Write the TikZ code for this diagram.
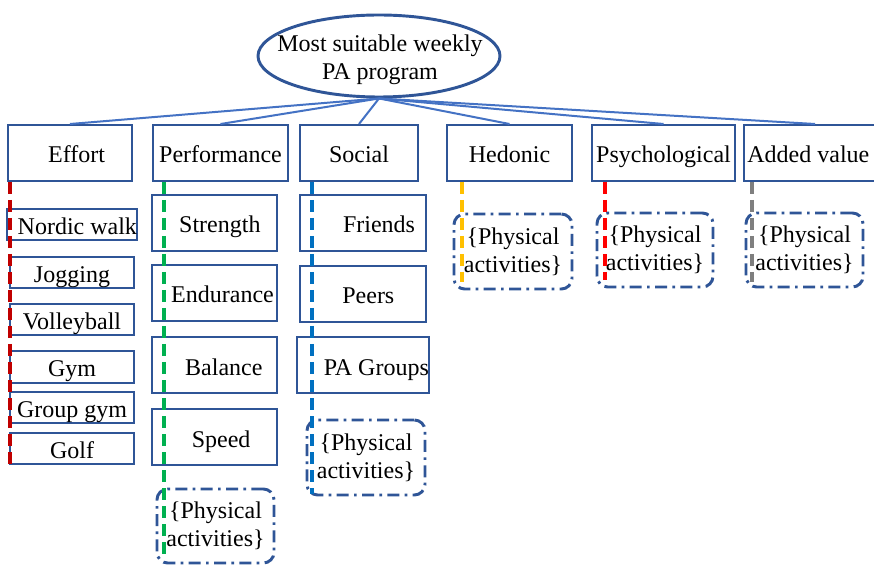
\documentclass[tikz,border=0pt]{standalone}
\usepackage{fontspec}
\setmainfont{Liberation Serif}
\usetikzlibrary{shapes.geometric}
\definecolor{boxblue}{HTML}{2F5597}
\definecolor{linkblue}{HTML}{4472C4}
\definecolor{dred}{HTML}{C00000}
\definecolor{bred}{HTML}{FF0000}
\definecolor{dgreen}{HTML}{00B050}
\definecolor{dblue}{HTML}{0070C0}
\definecolor{dyellow}{HTML}{FFC000}
\definecolor{dgray}{HTML}{7F7F7F}
\tikzset{
  sz/.style 2 args={minimum width=#1*0.75pt, minimum height=#2*0.75pt},
  box/.style={draw=boxblue, line width=1.5pt, rectangle, inner sep=0pt, fill=white,
     text height=15pt, text depth=0pt},
  pabox/.style={draw=boxblue, line width=2.2pt, rounded corners=8pt, inner sep=0pt,
     align=center, dash pattern=on 9pt off 4pt on 2pt off 4pt, fill=white},
  link/.style={draw=linkblue, line width=1.5pt},
  vdash/.style={line width=2.4pt, dash pattern=on 9pt off 4.5pt},
}
\begin{document}
\begin{tikzpicture}[x=0.75pt,y=-0.75pt,font=\fontsize{18}{21}\selectfont]
\fill[white] (0,0) rectangle (874,566);
\clip (0,0) rectangle (874,566);
% root
\node[ellipse, draw=boxblue, line width=2.2pt, sz={242}{82}, inner sep=0pt] (top) at (379,56) {};
\node[align=center, inner sep=0pt] (toptext) at (380,60) {Most suitable weekly\\PA program};
% categories
\node[box, sz={124}{56}] (effort) at (70,153) {\hspace*{10pt}Effort};
\node[box, sz={135}{56}] (perf) at (220.5,153) {Performance};
\node[box, sz={118}{56}] (social) at (359,153) {Social};
\node[box, sz={125}{56}] (hedonic) at (509.5,153) {Hedonic};
\node[box, sz={143}{56}] (psych) at (663.5,153) {Psychological};
\node[box, sz={142}{56}] (added) at (815,153) {\hspace*{-10pt}Added value};
\foreach \n in {effort,perf,social,hedonic,psych,added}
  \draw[link] (top.south) -- (\n.north);
% effort children
\node[box, sz={124}{31}] (nordic) at (72,224.5) {\hspace*{8pt}Nordic walk};
\node[box, sz={124}{31}] (jog) at (72,272.5) {Jogging};
\node[box, sz={124}{31}] (volley) at (72,319.5) {Volleyball};
\node[box, sz={124}{31}] (gym) at (72,367) {Gym};
\node[box, sz={124}{31}] (ggym) at (72,407.5) {Group gym};
\node[box, sz={124}{31}] (golf) at (72,448) {Golf};
% performance children
\node[box, sz={125}{56}] (strength) at (214.5,223) {\hspace*{8pt}Strength};
\node[box, sz={125}{56}] (endur) at (214.5,293) {\hspace*{12pt}Endurance};
\node[box, sz={125}{56}] (balance) at (214.5,365) {\hspace*{14pt}Balance};
\node[box, sz={125}{56}] (speed) at (214.5,437) {\hspace*{10pt}Speed};
\node[pabox, sz={117}{74}] (pa1) at (215.5,526) {\{Physical\\activities\}};
% social children
\node[box, sz={126}{56}] (friends) at (363,223) {\hspace*{24pt}Friends};
\node[box, sz={126}{56}] (peers) at (363,294) {\hspace*{8pt}Peers};
\node[box, sz={126}{56}] (pagroups) at (363,365) {\hspace*{20pt}PA Groups};
\node[pabox, sz={118}{75}] (pa2) at (366,457.5) {\{Physical\\activities\}};
% other PA boxes
\node[pabox, sz={118}{75}] (pa3) at (513,251.5) {\{Physical\\activities\}};
\node[pabox, sz={116}{74}] (pa4) at (655,250) {\{Physical\\activities\}};
\node[pabox, sz={117}{74}] (pa5) at (804.5,250) {\{Physical\\activities\}};
% dashed verticals
\draw[vdash, dred] ([xshift=3*0.75pt]effort.south west) -- ([xshift=3*0.75pt]effort.south west |- golf.south);
\draw[vdash, dgreen] ([xshift=12*0.75pt]perf.south west) -- ([xshift=12*0.75pt,yshift=6pt]perf.south west |- pa1.south);
\draw[vdash, dblue] ([xshift=13*0.75pt]social.south west) -- ([xshift=13*0.75pt,yshift=1.5pt]social.south west |- pa2.south);
\draw[vdash, dyellow] ([xshift=16*0.75pt]hedonic.south west) -- ([xshift=16*0.75pt,yshift=6pt]hedonic.south west |- pa3.south);
\draw[vdash, bred] ([xshift=14*0.75pt]psych.south west) -- ([xshift=14*0.75pt,yshift=6pt]psych.south west |- pa4.south);
\draw[vdash, dgray] ([xshift=9*0.75pt]added.south west) -- ([xshift=9*0.75pt,yshift=5pt]added.south west |- pa5.south);
\end{tikzpicture}
\end{document}
